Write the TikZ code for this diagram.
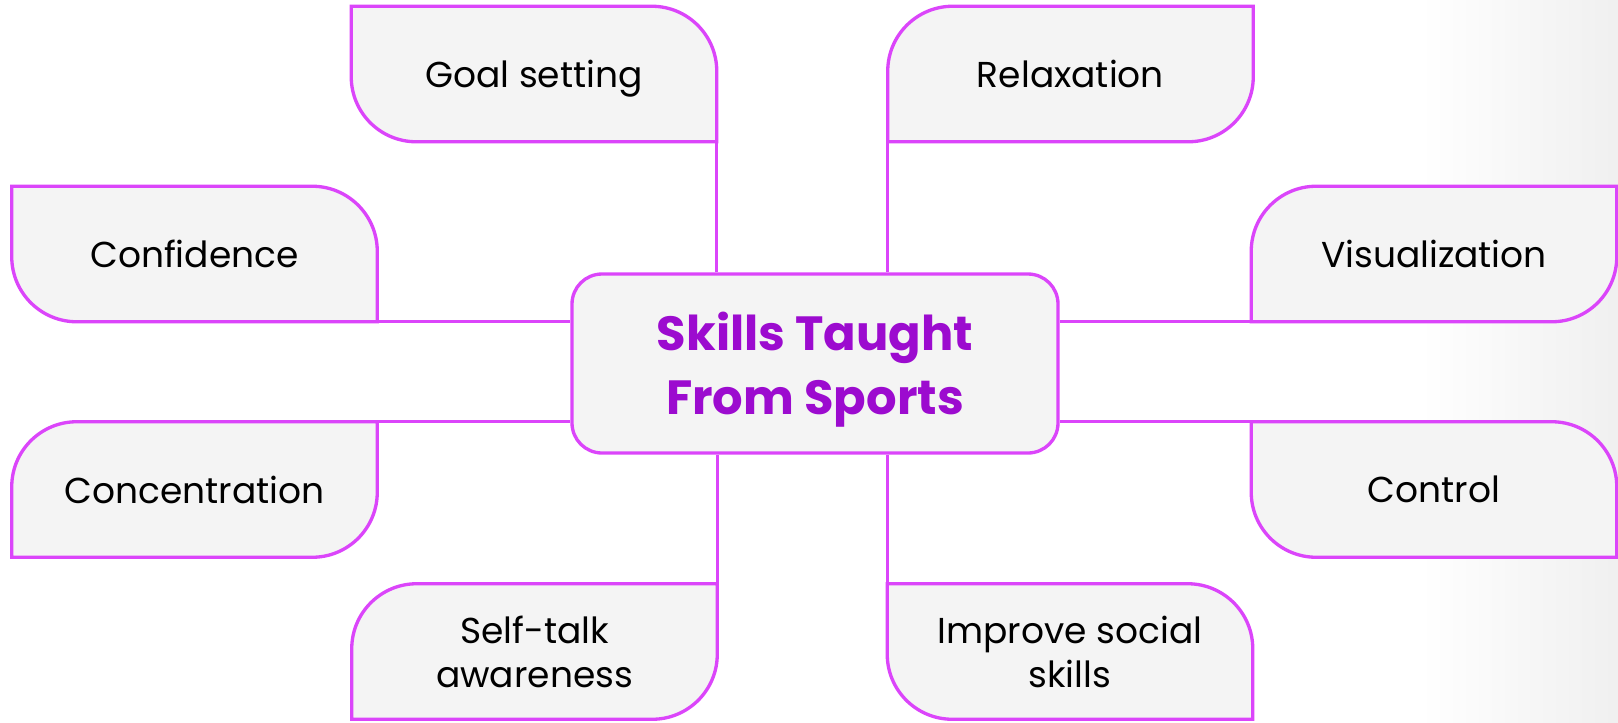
\documentclass[tikz,border=0pt]{standalone}
\usepackage{fontspec}
\setmainfont{Poppins}
\usetikzlibrary{backgrounds}
\definecolor{linkmagenta}{rgb}{0.86,0.27,0.98}
\definecolor{titlepurple}{rgb}{0.612,0.043,0.812}
\definecolor{panelgray}{rgb}{0.957,0.957,0.957}

\tikzset{
	leaf/.style={minimum width=273.75pt,minimum height=101.25pt,inner sep=0pt,align=center,text depth=0pt,font=\fontsize{27}{33}\selectfont},
	leafline/.style={draw=linkmagenta,fill=panelgray,line width=2.5pt},
	link/.style={draw=linkmagenta,line width=2.5pt},
	hub/.style={draw=linkmagenta,fill=panelgray,line width=2.5pt,rounded corners=22.5pt,minimum width=364.5pt,minimum height=134.25pt,align=center,text depth=0pt,text=titlepurple,font=\bfseries\fontsize{36}{48}\selectfont}
}
% leaf outline, round top right and bottom left
\newcommand{\leafne}[1]{\path[leafline] (#1.north west) -- ([xshift=-48.75pt]#1.north east) arc[start angle=-90,end angle=0,radius=48.75pt] -- (#1.south east) -- ([xshift=48.75pt]#1.south west) arc[start angle=90,end angle=180,radius=48.75pt] -- cycle;}
% leaf outline, round top left and bottom right
\newcommand{\leafnw}[1]{\path[leafline] ([xshift=-48.75pt]#1.south east) arc[start angle=90,end angle=0,radius=48.75pt] -- (#1.north east) -- ([xshift=48.75pt]#1.north west) arc[start angle=270,end angle=180,radius=48.75pt] -- (#1.south west) -- cycle;}

\begin{document}
\begin{tikzpicture}[x=0.75pt,y=0.75pt,yscale=-1,xscale=1]
			\useasboundingbox (0,0) rectangle (1618,722);
			
			\draw (815,363.5) node [hub] (hub) {Skills Taught\\From Sports};
			
			\draw (534,74) node [leaf] (goal) {Goal setting};
			\draw (1070.5,74) node [leaf] (relax) {Relaxation};
			\draw (194.5,254) node [leaf] (confid) {Confidence};
			\draw (1434,254) node [leaf] (visual) {Visualization};
			\draw (194.5,489.5) node [leaf] (concen) {Concentration};
			\draw (1434,489.5) node [leaf] (control) {Control};
			\draw (534.5,651.5) node [leaf] (selftalk) {Self-talk\\awareness};
			\draw (1070,651.5) node [leaf] (social) {Improve social\\skills};
			
			\begin{pgfonlayer}{background}
			\shade[left color=white,right color=black!6] (1420,0) rectangle (1618,722);
			
			\leafne{goal}
			\leafnw{relax}
			\leafne{confid}
			\leafnw{visual}
			\leafnw{concen}
			\leafne{control}
			\leafnw{selftalk}
			\leafne{social}
			
			\draw[link] (goal.south east) -- (goal.south east |- hub.north);
			\draw[link] (relax.south west) -- (relax.south west |- hub.north);
			\draw[link] (confid.south east) -- (confid.south east -| hub.west);
			\draw[link] (concen.north east) -- (concen.north east -| hub.west);
			\draw[link] (visual.south west) -- (visual.south west -| hub.east);
			\draw[link] (control.north west) -- (control.north west -| hub.east);
			\draw[link] (selftalk.north east) -- (selftalk.north east |- hub.south);
			\draw[link] (social.north west) -- (social.north west |- hub.south);
			\end{pgfonlayer}
\end{tikzpicture}
\end{document}
